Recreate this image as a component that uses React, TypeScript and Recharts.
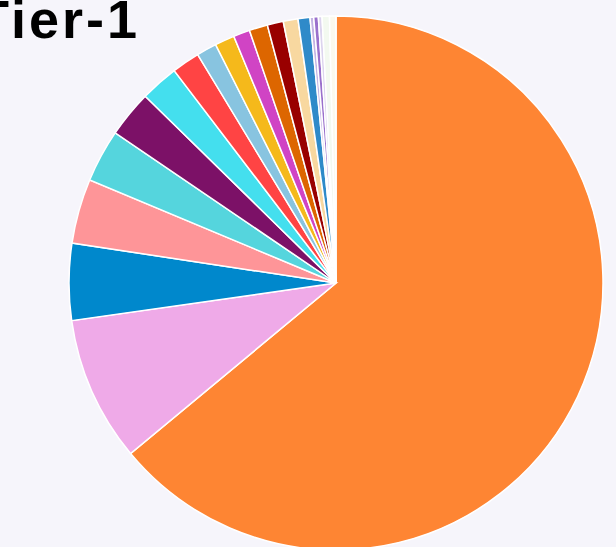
import { Cell, Pie, PieChart } from 'recharts';

const categories = [
  'S01', 'S02', 'S03', 'S04', 'S05', 'S06', 'S07', 'S08', 'S09', 'S10',
  'S11', 'S12', 'S13', 'S14', 'S15', 'S16', 'S17', 'S18', 'S19', 'S20'
];
const shares = [
  230.3, 31.6, 16.7, 14.1, 11.5, 10.2, 8.3, 6.1, 4.4, 4.3,
  3.6, 4.0, 3.5, 3.2, 2.6, 0.8, 1.0, 0.8, 1.6, 1.4
];
const colors = [
  '#fe8533', '#efaae8', '#0088cc', '#fe9598', '#55d5dd', '#7c1167', '#44dfee', '#ff4444', '#88c4e0', '#f5b91b',
  '#d044c4', '#dd6600', '#990000', '#f8d8a0', '#2f8ac9', '#c4b4e4', '#9a70cc', '#dcd4ee', '#f3f9f0', '#fbf9ee'
];
const title = 'Tier-1';

const data = categories.map((name, i) => ({ name, value: shares[i] }));

export default function App() {
  return (
    <div style={{ position: 'absolute', left: 0, top: 0, width: 616, height: 547, background: '#f6f5fb', overflow: 'hidden' }}>
      <PieChart width={616} height={547} margin={{ top: 0, right: 0, bottom: 0, left: 0 }}>
        <Pie
          data={data}
          dataKey="value"
          nameKey="name"
          cx={336}
          cy={283}
          outerRadius={267}
          startAngle={90}
          endAngle={-270}
          stroke="#ffffff"
          strokeWidth={1.5}
          isAnimationActive={false}
        >
          {data.map((d, i) => (
            <Cell key={d.name} fill={colors[i]} />
          ))}
        </Pie>
      </PieChart>
      <svg width={616} height={60} style={{ position: 'absolute', left: 0, top: 0 }}>
        <text
          x={-24}
          y={38}
          fontFamily="'Liberation Sans', Arial, sans-serif"
          fontWeight="bold"
          fontSize={54}
          letterSpacing={3}
          fill="#000000"
        >
          {title}
        </text>
      </svg>
    </div>
  );
}
